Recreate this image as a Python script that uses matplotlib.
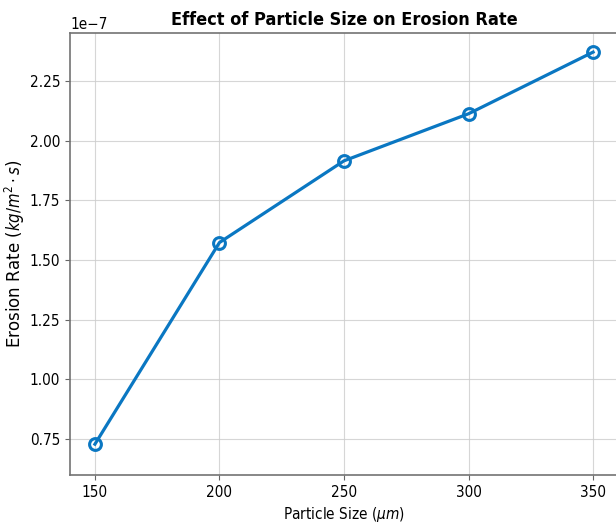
import matplotlib
matplotlib.use("Agg")
import matplotlib.pyplot as plt

# Particle size vs. measured erosion rate
particle_size = [150, 200, 250, 300, 350]
erosion_rate = [0.729e-7, 1.573e-7, 1.915e-7, 2.112e-7, 2.370e-7]

plt.rcParams['font.family'] = 'DejaVu Sans'
plt.rcParams['font.stretch'] = 'condensed'

fig = plt.figure(figsize=(6.16, 5.24), dpi=100)
ax = fig.add_axes([70 / 616, 49 / 524, 548 / 616, 442 / 524])

ax.plot(particle_size, erosion_rate, color='#0a77c2', linewidth=2.3,
        marker='o', markersize=8.5, markerfacecolor='none',
        markeredgewidth=2.2)

ax.set_xlim(140, 360)
ax.set_ylim(0.60e-7, 2.45e-7)
ax.set_xticks(particle_size)

ax.set_title('Effect of Particle Size on Erosion Rate', fontsize=13,
             fontweight='bold')
ax.set_xlabel(r'Particle Size ($\mu m$)', fontsize=11)
ax.set_ylabel(r'Erosion Rate ($kg/m^2 \cdot s$)', fontsize=12, labelpad=2,
              fontstretch='normal')
ax.tick_params(labelsize=11, color='0.4')
ax.yaxis.get_offset_text().set_fontsize(11)

for spine in ax.spines.values():
    spine.set_color('0.45')
    spine.set_linewidth(1.2)

ax.grid(True, color='0.8', linewidth=0.8, alpha=0.8)

fig.savefig('out.png', dpi=100)
